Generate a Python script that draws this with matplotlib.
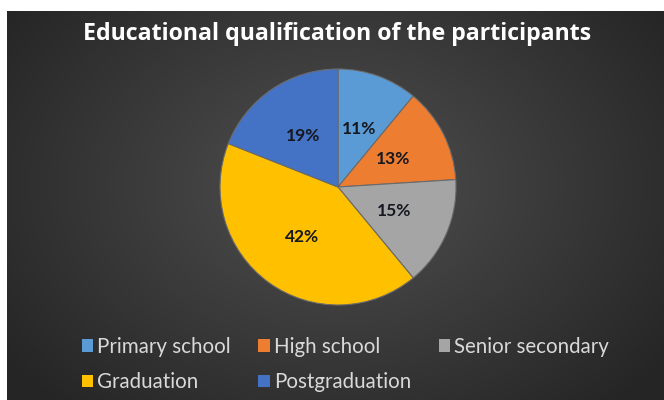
import numpy as np
import matplotlib
matplotlib.use("Agg")
import matplotlib.pyplot as plt
from matplotlib.patches import Patch

categories = ["Primary school", "High school", "Senior secondary", "Graduation", "Postgraduation"]
shares = [11, 13, 15, 42, 19]
colors = ["#5B9BD5", "#ED7D31", "#A5A5A5", "#FFC000", "#4472C4"]
title = "Educational qualification of the participants"

W, H = 664, 400
fig = plt.figure(figsize=(W / 100, H / 100), dpi=100, facecolor="white")

# dark radial-gradient panel
bg = fig.add_axes([0, 0, 1, 1])
bg.set_axis_off()
bg.set_xlim(0, W)
bg.set_ylim(H, 0)
x0, y0 = 7, 11
yy, xx = np.mgrid[0:H - y0, 0:W - x0]
cx, cy = (W - x0) / 2, (H - y0) / 2 - 20
d = np.sqrt(((xx - cx) / (W * 0.62)) ** 2 + ((yy - cy) / (H * 0.75)) ** 2)
inner = np.array([0x50, 0x50, 0x50]) / 255
outer = np.array([0x25, 0x25, 0x25]) / 255
t = np.clip(d, 0, 1)[..., None]
img = inner * (1 - t) + outer * t
bg.imshow(img, extent=[x0, W, H, y0], aspect="auto", interpolation="bilinear")

# pie
pcx, pcy, r = 338, 187, 118
pad = 1.02
ax = fig.add_axes([(pcx - r * pad) / W, 1 - (pcy + r * pad) / H,
                   2 * r * pad / W, 2 * r * pad / H])
ax.set_facecolor("none")
wedges, texts = ax.pie(
    shares, colors=colors, startangle=90, counterclock=False,
    labels=[f"{v}%" for v in shares], labeldistance=0.52,
    wedgeprops=dict(edgecolor="#6a6a6a", linewidth=0.8),
    textprops=dict(color="#15181f", fontsize=12.5, fontweight="bold", family=["Lato", "DejaVu Sans"]),
)
for tx in texts:
    tx.set_horizontalalignment("center")
    tx.set_verticalalignment("center")
ax.set_xlim(-pad, pad)
ax.set_ylim(-pad, pad)
ax.set_aspect("auto")
ax.set_axis_off()

fig.text(337 / W, 1 - 34 / H, title, ha="center", va="center", color="white",
         fontsize=16.7, fontweight="bold", family=["Open Sans", "DejaVu Sans"])

# legend laid out row by row
order = [0, 3, 1, 4, 2]
handles = [Patch(facecolor=colors[i], edgecolor="none") for i in order]
labels = [categories[i] for i in order]
leg = fig.legend(handles, labels, ncol=3, loc="center left",
                 bbox_to_anchor=(63 / W, 1 - 364.5 / H), frameon=False,
                 handlelength=0.55, handleheight=0.55, handletextpad=0.2,
                 columnspacing=1.35, labelspacing=0.74,
                 prop=dict(family=["Lato", "DejaVu Sans"], size=14.8))
for tx in leg.get_texts():
    tx.set_color("#D9D9D9")

fig.savefig("out.png", dpi=100, facecolor="white")
